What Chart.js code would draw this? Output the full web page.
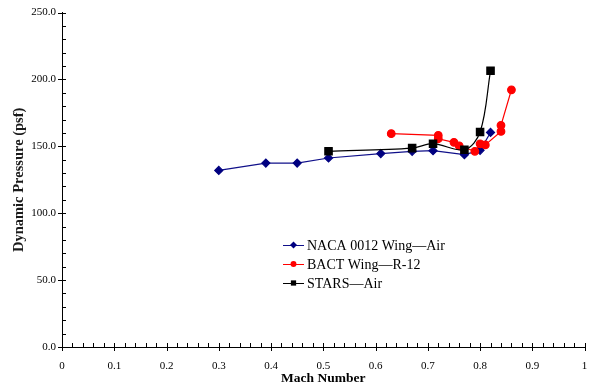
<!DOCTYPE html>
<html>
<head>
<meta charset="utf-8">
<title>Dynamic Pressure vs Mach Number</title>
<script src="https://cdn.jsdelivr.net/npm/chart.js"></script>
<style>
    html, body { margin: 0; padding: 0; background: #ffffff; }
    #wrap { width: 591px; height: 387px; }
</style>
</head>
<body>
<div id="wrap"><canvas id="myChart" width="591" height="387"></canvas></div>
<script>
'use strict';

// series data: Mach number and dynamic pressure (psf)
let nacaMach = [0.30, 0.39, 0.45, 0.51, 0.61, 0.67, 0.71, 0.77, 0.80, 0.82];
let nacaQ = [132.0, 137.5, 137.5, 141.3, 144.6, 146.3, 146.8, 143.8, 147.0, 160.4];

let bactMach = [0.63, 0.72, 0.72, 0.75, 0.76, 0.79, 0.80, 0.81, 0.84, 0.84, 0.86];
let bactQ = [159.5, 158.2, 155.7, 153.0, 150.4, 146.3, 151.9, 151.1, 161.2, 165.7, 192.3];

let starsMach = [0.51, 0.67, 0.71, 0.77, 0.80, 0.82];
let starsQ = [146.3, 148.7, 152.0, 147.5, 160.7, 206.5];

let seriesNames = ['NACA 0012 Wing\u2014Air', 'BACT Wing\u2014R-12', 'STARS\u2014Air'];

let xTitle = 'Mach Number';
let yTitle = 'Dynamic Pressure (psf)';

let serif = '"Liberation Serif", "Times New Roman", serif';

function toPoints(xs, ys) {
    let pts = [];
    for (let i = 0; i < xs.length; i++) {
        pts.push({ x: xs[i], y: ys[i] });
    }
    return pts;
}

// small ticks pointing into the plot, like the old spreadsheet style
let innerTicks = {
    id: 'innerTicks',
    afterDraw(chart) {
        let ctx = chart.ctx;
        let xs = chart.scales.x;
        let ys = chart.scales.y;
        let x0 = xs.getPixelForValue(0);
        let y0 = ys.getPixelForValue(0);
        ctx.save();
        ctx.strokeStyle = '#000000';
        ctx.lineWidth = 1;
        ctx.beginPath();
        for (let v = 0; v <= 250; v += 10) {
            let py = Math.round(ys.getPixelForValue(v)) + 0.5;
            if (v % 50 === 0) {
                ctx.moveTo(x0 - 4, py);
            } else {
                ctx.moveTo(x0, py);
            }
            ctx.lineTo(x0 + 4, py);
        }
        for (let i = 0; i <= 50; i++) {
            let px = Math.round(xs.getPixelForValue(i / 50)) + 0.5;
            if (i % 5 === 0) {
                ctx.moveTo(px, y0 + 4);
            } else {
                ctx.moveTo(px, y0);
            }
            ctx.lineTo(px, y0 - 4);
        }
        ctx.stroke();
        ctx.restore();
    }
};

function drawMarker(ctx, style, x, y, r, color) {
    ctx.fillStyle = color;
    ctx.strokeStyle = color;
    ctx.beginPath();
    if (style === 'rectRot') {
        ctx.moveTo(x, y - r);
        ctx.lineTo(x + r, y);
        ctx.lineTo(x, y + r);
        ctx.lineTo(x - r, y);
        ctx.closePath();
    } else if (style === 'rect') {
        ctx.rect(x - r * 0.75, y - r * 0.75, r * 1.5, r * 1.5);
    } else {
        ctx.arc(x, y, r * 0.85, 0, Math.PI * 2);
    }
    ctx.fill();
}

// legend box sitting inside the plot area
let insideLegend = {
    id: 'insideLegend',
    afterDraw(chart) {
        let ctx = chart.ctx;
        let left = 283;
        let top = 245;
        let rowGap = 19;
        ctx.save();
        ctx.font = '14px ' + serif;
        ctx.textBaseline = 'middle';
        ctx.textAlign = 'left';
        chart.data.datasets.forEach(function (ds, i) {
            let y = top + i * rowGap;
            ctx.strokeStyle = ds.borderColor;
            ctx.lineWidth = 1;
            ctx.beginPath();
            ctx.moveTo(left, y + 0.5);
            ctx.lineTo(left + 21, y + 0.5);
            ctx.stroke();
            drawMarker(ctx, ds.pointStyle, left + 10.5, y, 3.5, ds.pointBackgroundColor);
            ctx.fillStyle = '#000000';
            ctx.fillText(ds.label, left + 24, y + 1);
        });
        ctx.restore();
    }
};

let ctx = document.getElementById('myChart').getContext('2d');
let myChart = new Chart(ctx, {
    type: 'scatter',
    data: {
        datasets: [{
            label: seriesNames[0],
            data: toPoints(nacaMach, nacaQ),
            showLine: true,
            borderColor: '#10108a',
            backgroundColor: '#000080',
            pointBackgroundColor: '#000080',
            pointBorderColor: '#000080',
            pointStyle: 'rectRot',
            pointRadius: 4,
            borderWidth: 1.2,
            tension: 0,
            order: 3
        }, {
            label: seriesNames[1],
            data: toPoints(bactMach, bactQ),
            showLine: true,
            borderColor: '#ff0000',
            backgroundColor: '#ff0000',
            pointBackgroundColor: '#ff0000',
            pointBorderColor: '#ff0000',
            pointStyle: 'circle',
            pointRadius: 3.8,
            borderWidth: 1.2,
            tension: 0,
            order: 2
        }, {
            label: seriesNames[2],
            data: toPoints(starsMach, starsQ),
            showLine: true,
            borderColor: '#000000',
            backgroundColor: '#000000',
            pointBackgroundColor: '#000000',
            pointBorderColor: '#000000',
            pointStyle: 'rect',
            pointRadius: 5.2,
            borderWidth: 1.2,
            tension: 0.35,
            order: 1
        }]
    },
    options: {
        responsive: false,
        animation: false,
        devicePixelRatio: 1,
        layout: {
            padding: { top: 11, right: 6, bottom: 0, left: 0 }
        },
        plugins: {
            legend: { display: false },
            tooltip: { enabled: false }
        },
        scales: {
            x: {
                type: 'linear',
                min: 0,
                max: 1,
                grid: { display: false, drawTicks: false },
                border: { display: true, color: '#000000', width: 1 },
                ticks: {
                    stepSize: 0.1,
                    autoSkip: false,
                    maxRotation: 0,
                    padding: 13,
                    color: '#000000',
                    font: { family: serif, size: 11 },
                    callback: function (v) {
                        let r = Math.round(v * 10) / 10;
                        if (r === 0) return '0';
                        if (r === 1) return '1';
                        return r.toFixed(1);
                    }
                },
                title: {
                    display: true,
                    text: xTitle,
                    color: '#000000',
                    font: { family: serif, size: 13.5, weight: 'bold' },
                    padding: { top: 0, bottom: 0 }
                },
                afterFit: function (scale) {
                    scale.height = 40;
                    // tick padding would otherwise squeeze the plot from the right
                    scale.paddingLeft = 0;
                    scale.paddingRight = 0;
                }
            },
            y: {
                type: 'linear',
                min: 0,
                max: 250,
                grid: { display: false, drawTicks: false },
                border: { display: true, color: '#000000', width: 1 },
                ticks: {
                    stepSize: 50,
                    autoSkip: false,
                    padding: 6,
                    color: '#000000',
                    font: { family: serif, size: 11 },
                    callback: function (v) {
                        return Number(v).toFixed(1);
                    }
                },
                title: {
                    display: true,
                    text: yTitle,
                    color: '#1a1a1a',
                    font: { family: serif, size: 14.5, weight: 'bold' },
                    padding: { top: 11, bottom: 0 }
                },
                afterFit: function (scale) {
                    scale.width = 62;
                }
            }
        }
    },
    plugins: [innerTicks, insideLegend]
});
</script>
</body>
</html>
